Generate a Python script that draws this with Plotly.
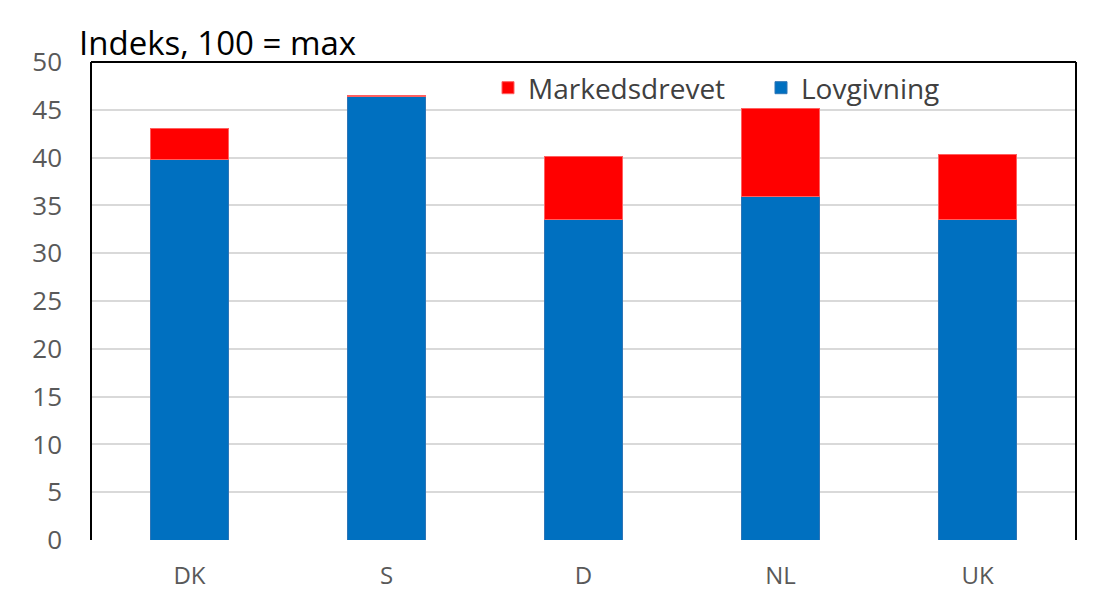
import plotly.graph_objects as go

categories = ["DK", "S", "D", "NL", "UK"]
lovgivning = [39.8, 46.4, 33.5, 35.9, 33.5]
markedsdrevet = [3.2, 0.1, 6.6, 9.2, 6.8]

# page has an 8px body margin; figure coordinates compensate for that
L, T, R, B = 83, 54, 32, 68
PW = 1100 - L - R
PH = 600 - T - B

fig = go.Figure()
fig.add_trace(go.Bar(x=categories, y=lovgivning, name="Lovgivning",
                     marker=dict(color="#0070C0", line=dict(color="#2E75B6", width=1)),
                     width=0.4))
fig.add_trace(go.Bar(x=categories, y=markedsdrevet, name="Markedsdrevet",
                     marker=dict(color="#FF0000", line=dict(color="#FF6060", width=1)),
                     width=0.4))

fig.update_layout(
    barmode="stack",
    width=1100, height=600,
    margin=dict(l=L, r=R, t=T, b=B),
    paper_bgcolor="white", plot_bgcolor="white",
    font=dict(family="Open Sans, Noto Sans, sans-serif", color="#595959"),
    legend=dict(orientation="h", x=(480 - L) / PW, y=1 - (1 / PH), xanchor="left", yanchor="top",
                traceorder="reversed", font=dict(size=28, color="#404040"),
                bgcolor="rgba(0,0,0,0)", entrywidth=228, entrywidthmode="pixels"),
    showlegend=True,
    annotations=[dict(text="Indeks, 100 = max", x=(69 - L) / PW, y=1 + (T - 34) / PH,
                      xref="paper", yref="paper",
                      showarrow=False, xanchor="left", yanchor="middle",
                      font=dict(size=33, color="#000000"))],
)

fig.update_yaxes(range=[0, 50], dtick=5, showgrid=True, gridcolor="#D9D9D9", gridwidth=2,
                 tickfont=dict(size=26, color="#595959"), ticks="", zeroline=False,
                 showline=False, ticklabelstandoff=28)
fig.update_xaxes(tickfont=dict(size=24, color="#595959"), showline=False, ticks="",
                 ticklabelstandoff=19)

# plot area border: left, top, right black
for x0, x1, y0, y1 in [(0, 0, 0, 1), (0, 1, 1, 1), (1, 1, 0, 1)]:
    fig.add_shape(type="line", xref="paper", yref="paper", x0=x0, x1=x1, y0=y0, y1=y1,
                  line=dict(color="black", width=2))

fig.write_html("out.html")
